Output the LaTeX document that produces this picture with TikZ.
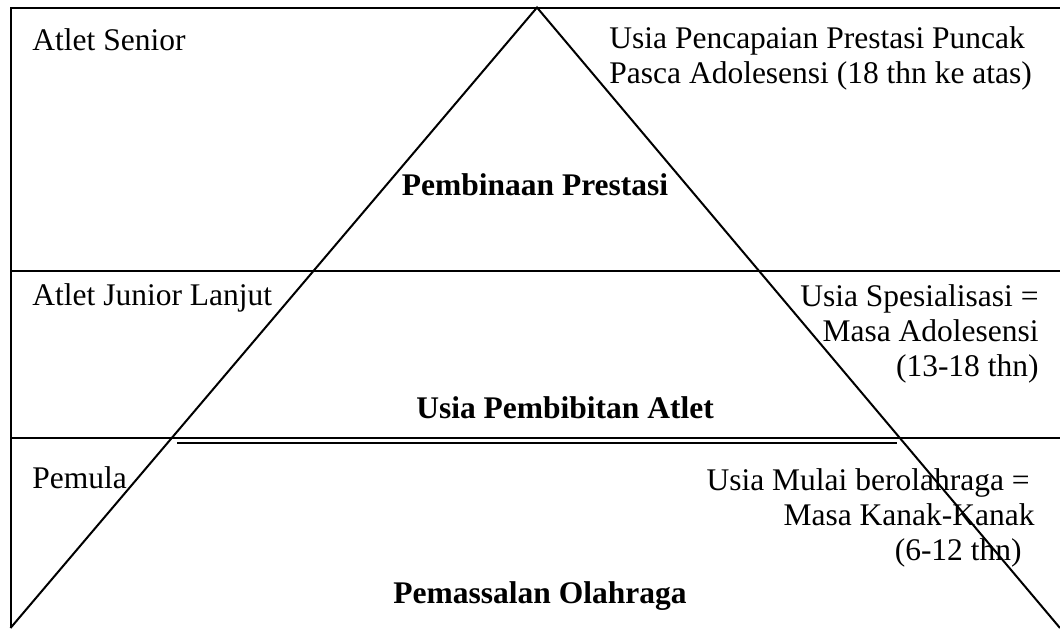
\documentclass[tikz,border=0pt]{standalone}
\usepackage{fontspec}
\setmainfont{Liberation Serif}
\begin{document}
\begin{tikzpicture}[x=0.5pt, y=-0.5pt,
  txt/.style={inner sep=0pt, font=\fontsize{15.75}{17.5}\selectfont},
  ttl/.style={inner sep=0pt, font=\fontsize{15.75}{17.5}\selectfont\bfseries},
  rule/.style={line width=1pt}
]
  \useasboundingbox (0,0) rectangle (1060,628);
  % frame and pyramid
  \coordinate (tl) at (10.5,7.5);
  \coordinate (tr) at (1060,7.5);
  \coordinate (bl) at (10.5,628);
  \coordinate (br) at (1060,628);
  \coordinate (apex) at (537,7.5);
  \coordinate (upl) at (10.5,270.5);
  \coordinate (upr) at (1060,270.5);
  \coordinate (lowl) at (10.5,438.3);
  \coordinate (lowr) at (1060,438.3);
  \coordinate (dbll) at (177,442.8);
  \coordinate (dblr) at (897,442.8);
  \draw[rule] (tr) -- (tl) -- (bl);
  \draw[rule] (bl) -- (apex) -- (br);
  \draw[rule] (upl) -- (upr);
  \draw[rule] (lowl) -- (lowr);
  \draw[rule] (dbll) -- (dblr);
  % left labels
  \node[txt, anchor=base west] (senior) at (32,50) {Atlet Senior};
  \node[txt, anchor=base west] (junior) at (32,305) {Atlet Junior Lanjut};
  \node[txt, anchor=base west] (pemula) at (32,488) {Pemula};
  % right labels
  \node[txt, anchor=north west, align=left] (puncak) at (609,26)
    {Usia Pencapaian Prestasi Puncak\\Pasca Adolesensi (18 thn ke atas)};
  \node[txt, anchor=north east, align=right] (spesial) at (1039,284)
    {Usia Spesialisasi =\\Masa Adolesensi\\(13-18 thn)};
  \node[txt, anchor=north east, align=right] (mulai) at (1035,468)
    {Usia Mulai berolahraga =\hspace*{2.5pt}\\Masa Kanak-Kanak\\(6-12 thn)\hspace*{6.5pt}};
  % level titles
  \node[ttl, anchor=base] (prestasi) at (535,195) {Pembinaan Prestasi};
  \node[ttl, anchor=base] (bibit) at (565,418) {Usia Pembibitan Atlet};
  \node[ttl, anchor=base] (massal) at (540,603) {Pemassalan Olahraga};
\end{tikzpicture}
\end{document}
